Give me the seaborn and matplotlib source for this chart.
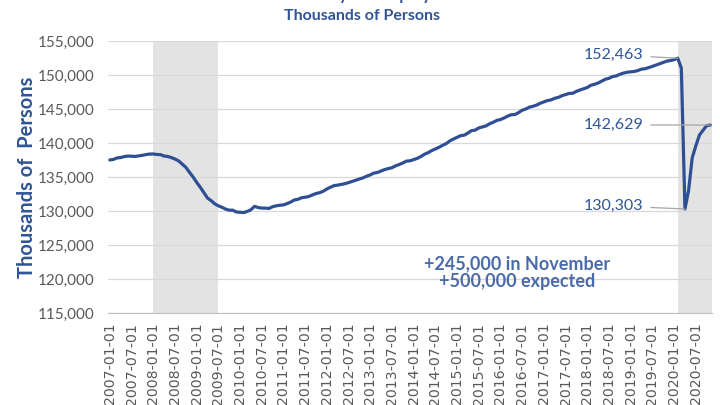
import numpy as np
import pandas as pd
import matplotlib
matplotlib.use("Agg")
import matplotlib.pyplot as plt
import seaborn as sns

# Monthly payroll employment, thousands of persons, 2007-01 .. 2020-11
emp_2007 = [137497, 137582, 137800, 137855, 138002, 138078, 138047, 138020, 138100, 138182, 138294, 138365]
emp_2008 = [138384, 138304, 138290, 138077, 138018, 137852, 137643, 137375, 136911, 136434, 135709, 135012]
emp_2009 = [134224, 133502, 132707, 131904, 131529, 131063, 130763, 130546, 130284, 130122, 130123, 129853]
emp_2010 = [129819, 129768, 129936, 130181, 130681, 130511, 130429, 130424, 130373, 130628, 130761, 130849]
emp_2011 = [130894, 131088, 131312, 131622, 131721, 131951, 132022, 132132, 132359, 132566, 132694, 132901]
emp_2012 = [133239, 133495, 133731, 133802, 133915, 134013, 134176, 134346, 134529, 134706, 134868, 135114]
emp_2013 = [135305, 135576, 135668, 135872, 136092, 136239, 136362, 136633, 136834, 137060, 137334, 137381]
emp_2014 = [137551, 137737, 138011, 138342, 138573, 138880, 139122, 139359, 139654, 139904, 140305, 140581]
emp_2015 = [140825, 141077, 141149, 141460, 141818, 141884, 142207, 142358, 142504, 142819, 143041, 143316]
emp_2016 = [143442, 143673, 143951, 144154, 144175, 144459, 144817, 144994, 145267, 145393, 145567, 145838]
emp_2017 = [146032, 146232, 146332, 146566, 146700, 146945, 147111, 147284, 147302, 147589, 147788, 147967]
emp_2018 = [148153, 148482, 148619, 148815, 149084, 149367, 149502, 149771, 149851, 150091, 150267, 150393]
emp_2019 = [150461, 150502, 150653, 150849, 150911, 151083, 151259, 151448, 151636, 151821, 152032, 152116]
emp_2020 = [152234, 152463, 150990, 130303, 133002, 137802, 139566, 141149, 141865, 142545, 142629]

employment = (emp_2007 + emp_2008 + emp_2009 + emp_2010 + emp_2011 + emp_2012 + emp_2013
              + emp_2014 + emp_2015 + emp_2016 + emp_2017 + emp_2018 + emp_2019 + emp_2020)
months = pd.date_range("2007-01-01", periods=len(employment), freq="MS")

# recession shading (month index start, end)
recessions = [(12, 30), (157, 166.5)]

# labelled points: value, label height
callouts = [(152463, 152950), (142629, 142650), (130303, 130750)]

note_text = "+245,000 in November\n+500,000 expected"

df = pd.DataFrame({"idx": np.arange(len(employment)), "Employment": employment})

blue = "#2F4F94"
label_blue = "#2F5597"
gray_txt = "#595959"

sns.set_style("white")
plt.rcParams["font.family"] = ["Lato", "DejaVu Sans"]

fig = plt.figure(figsize=(7.2, 4.05), dpi=100)
ax = fig.add_axes([0.15, 0.227, 0.839, 0.672])

for a, b in recessions:
    ax.axvspan(a, b, color="#E3E3E3", lw=0, zorder=0)

sns.lineplot(data=df, x="idx", y="Employment", color=blue, linewidth=2.3, ax=ax, zorder=3)

ax.set_xlim(-0.5, len(employment) - 0.5)
ax.set_ylim(115000, 155000)
ax.set_yticks(np.arange(115000, 155001, 5000))
ax.set_yticklabels([f"{v:,}" for v in range(115000, 155001, 5000)], fontsize=11, color=gray_txt)
ax.yaxis.grid(True, color="#D9D9D9", lw=0.9)
ax.set_axisbelow(True)

tick_idx = list(range(0, len(employment), 6))
ax.set_xticks(tick_idx)
ax.set_xticklabels([months[i].strftime("%Y-%m-%d") for i in tick_idx], rotation=90,
                   fontsize=10.2, color=gray_txt, family=["DejaVu Sans"])
ax.tick_params(axis="x", length=4, color="#BFBFBF", pad=3)
ax.tick_params(axis="y", length=0, pad=10)

for s in ["left", "right", "top"]:
    ax.spines[s].set_visible(False)
ax.spines["bottom"].set_color("#BFBFBF")

ax.set_xlabel("")
ax.set_ylabel("Thousands of  Persons", fontsize=14.5, fontweight="bold", color=label_blue)
ax.yaxis.set_label_coords(-0.117, 0.5)

for val, ty in callouts:
    i = employment.index(val)
    ax.annotate(f"{val:,}", xy=(i, val), xytext=(147.5, ty), ha="right", va="center",
                fontsize=11.5, color=label_blue,
                arrowprops=dict(arrowstyle="-", color="#A6A6A6", lw=0.9, shrinkA=3, shrinkB=0))

ax.text(112.5, 121000, note_text, ha="center", va="center", fontsize=13,
        fontweight="bold", color="#4A6AA8", linespacing=1.05)

fig.text(0.503, 0.96, "Thousands of Persons", ha="center", va="center",
         fontsize=11.5, fontweight="bold", color=label_blue)
fig.text(0.5, 1.012, "Nonfarm Payroll Employment", ha="center", va="center",
         fontsize=12, fontweight="bold", color=label_blue)

fig.savefig("out.png", dpi=100)
